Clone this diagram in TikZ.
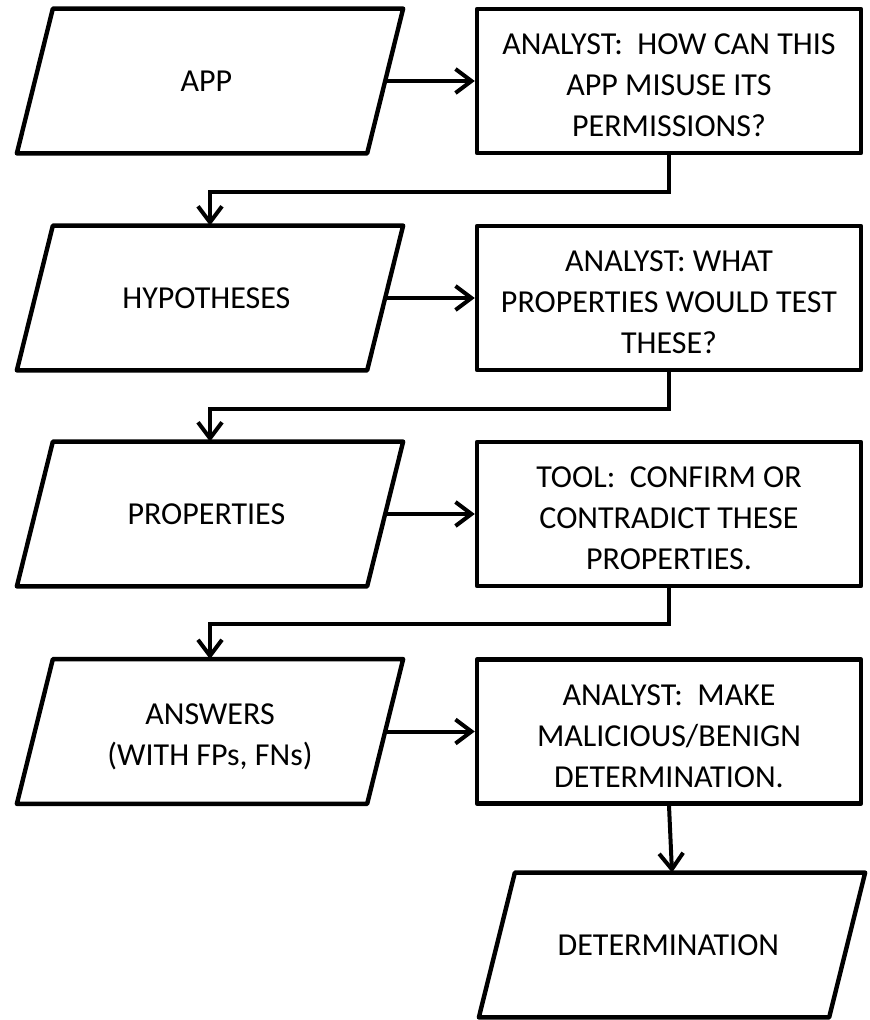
\documentclass[tikz,border=0pt]{standalone}
\usepackage{fontspec}
\setmainfont{Carlito}
\usetikzlibrary{arrows.meta}

\begin{document}
\begin{tikzpicture}[ x=0.5pt, y=-0.5pt, >={Straight Barb[length=8pt,width=12pt]},
    para/.style={rectangle, minimum width=174.75pt, minimum height=72pt, inner sep=0pt,
        align=center, font=\fontsize{16}{20.5}\selectfont,
        append after command={\pgfextra{
            \draw[line width=2.2pt, line join=round]
                ([xshift=9pt]\tikzlastnode.north west) -- ([xshift=9pt]\tikzlastnode.north east)
                -- ([xshift=-9pt]\tikzlastnode.south east) -- ([xshift=-9pt]\tikzlastnode.south west)
                -- cycle;}}},
    box/.style={draw, line width=2.2pt, line join=round, rectangle,
        minimum width=192pt, minimum height=72pt, inner sep=0pt, align=center,
        font=\fontsize{16}{20.5}\selectfont},
    link/.style={->, line width=2pt} ]

% Khung

    \useasboundingbox (0,0) rectangle (869,1020);

% Du lieu (trai)

    \node[para] (app)  at (210,81)    { APP };
    \node[para] (hyp)  at (210,298)   { HYPOTHESES };
    \node[para] (prop) at (210,514)   { PROPERTIES };
    \node[para] (ans)  at (210,731.5) { \rule{0pt}{16pt}ANSWERS\\(WITH FPs, FNs) };
    \node[para] (det)  at (672,945)   { DETERMINATION };

% Buoc (phai)

    \node[box] (ask)   at (669,81)    { \rule{0pt}{15pt}ANALYST:~~HOW CAN THIS\\APP MISUSE ITS\\PERMISSIONS? };
    \node[box] (pick)  at (669,298)   { \rule{0pt}{15pt}ANALYST: WHAT\\PROPERTIES WOULD TEST\\THESE? };
    \node[box] (tool)  at (669,514)   { \rule{0pt}{15pt}TOOL:~~CONFIRM OR\\CONTRADICT THESE\\PROPERTIES. };
    \node[box] (judge) at (669,731.5) { \rule{0pt}{15pt}ANALYST:~~MAKE\\MALICIOUS/BENIGN\\DETERMINATION. };

% Mui ten ngang

    \draw[link] (app.east)  -- (ask.west);
    \draw[link] (hyp.east)  -- (pick.west);
    \draw[link] (prop.east) -- (tool.west);
    \draw[link] (ans.east)  -- (judge.west);

% Mui ten gap khuc

    \draw[link] (ask.south)  -- ++(0,37) -| (hyp.north);
    \draw[link] (pick.south) -- ++(0,37) -| (prop.north);
    \draw[link] (tool.south) -- ++(0,36) -| (ans.north);
    \draw[link] (judge.south) -- (det.north);

\end{tikzpicture}
\end{document}
